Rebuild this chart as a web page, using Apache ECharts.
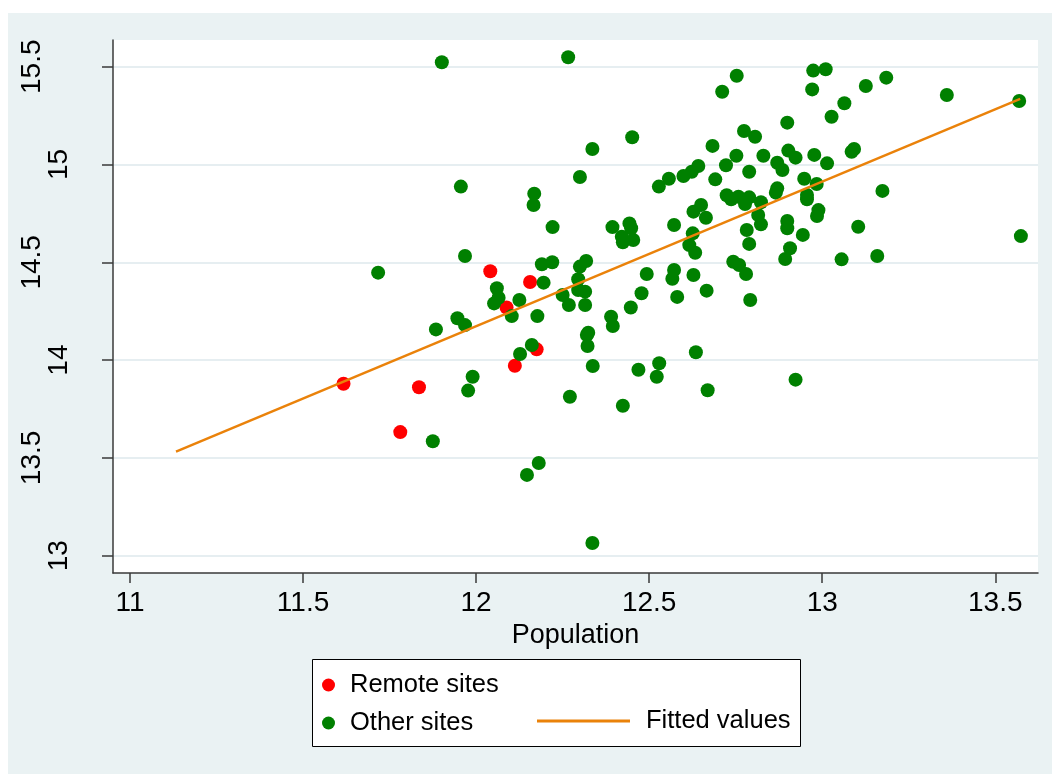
<!DOCTYPE html>
<html><head><meta charset="utf-8">
<script src="https://cdn.jsdelivr.net/npm/echarts@6/dist/echarts.min.js"></script>
<style>
html,body{margin:0;padding:0;background:#fff;overflow:hidden;}
#panel{position:absolute;left:8px;top:13px;width:1044px;height:761px;background:#eaf2f3;}
#chart{position:absolute;left:0;top:0;width:1052px;height:774px;}
</style></head><body>
<div id="panel"></div><div id="chart"></div>
<script>
const remoteX = [11.617, 11.781, 11.835, 12.041, 12.156, 12.088, 12.175, 12.112];
const remoteY = [13.879, 13.632, 13.861, 14.454, 14.399, 14.269, 14.055, 13.971];

const otherX = [11.901,12.266,11.717,11.956,11.968,11.884,11.946,11.968,11.977,11.990,
11.875,12.168,12.166,12.221,12.060,12.065,12.052,12.125,12.103,12.190,
12.220,12.195,12.177,12.127,12.161,12.300,12.336,12.300,12.318,12.295,
12.295,12.315,12.315,12.250,12.268,12.320,12.324,12.322,12.337,12.271,
12.181,12.147,12.336,12.394,12.443,12.448,12.421,12.454,12.424,12.451,
12.390,12.395,12.447,12.478,12.493,12.469,12.529,12.522,12.424,12.528,
12.557,12.599,12.623,12.642,12.691,12.572,12.628,12.650,12.664,12.626,
12.616,12.633,12.572,12.567,12.628,12.581,12.666,12.635,12.669,12.683,
12.711,12.722,12.724,12.737,12.758,12.789,12.777,12.823,12.743,12.760,
12.780,12.792,12.782,12.789,12.815,12.823,12.753,12.774,12.806,12.752,
12.830,12.789,12.870,12.885,12.902,12.923,12.977,13.014,12.899,12.971,
12.974,13.010,13.027,13.064,13.126,13.185,13.360,13.569,13.085,13.092,
12.948,12.984,12.870,12.866,12.956,12.956,13.174,12.899,12.899,12.944,
12.989,12.985,13.104,12.907,12.893,13.056,13.159,13.574,12.923];

const otherY = [15.523,15.548,14.447,14.887,14.532,14.157,14.214,14.179,13.844,13.915,
13.585,14.851,14.793,14.680,14.367,14.319,14.290,14.307,14.225,14.490,
14.500,14.396,14.225,14.031,14.077,14.936,15.079,14.478,14.507,14.413,
14.358,14.350,14.282,14.333,14.282,14.128,14.140,14.072,13.970,13.813,
13.474,13.413,13.065,14.680,14.699,14.674,14.631,14.614,14.602,15.139,
14.222,14.174,14.269,14.342,14.440,13.951,13.984,13.915,13.767,14.887,
14.927,14.941,14.963,14.992,14.924,14.691,14.759,14.793,14.728,14.648,
14.588,14.549,14.461,14.416,14.435,14.323,14.355,14.040,13.846,15.095,
15.372,14.996,14.843,14.822,14.835,14.832,14.798,14.807,14.503,14.486,
14.440,14.307,14.665,14.594,14.742,14.694,15.454,15.171,15.142,15.045,
15.045,14.963,15.009,14.972,15.071,15.035,15.049,15.006,15.214,15.384,
15.480,15.487,15.244,15.313,15.401,15.444,15.355,15.325,15.065,15.079,
14.927,14.900,14.878,14.856,14.844,14.822,14.865,14.711,14.674,14.640,
14.767,14.737,14.682,14.572,14.517,14.515,14.532,14.634,13.900];

const fitX = [11.133, 13.572];
const fitY = [13.532, 15.336];

const xTicks = [11, 11.5, 12, 12.5, 13, 13.5];
const yTicks = [13, 13.5, 14, 14.5, 15, 15.5];
const yLabelsOuter = [13.5, 14.5, 15.5];
const yLabelsInner = [13, 14, 15];

const FONT = '"Liberation Sans", Arial, sans-serif';
const zip = (a, b) => a.map((v, i) => [v, b[i]]);

const chart = echarts.init(document.getElementById('chart'), null, {renderer: 'canvas'});
const axisColor = '#3a3a3a';
const orange = '#ea820a';
chart.setOption({
  animation: false,
  backgroundColor: 'transparent',
  grid: {left: 113, right: 14, top: 40, bottom: 201, show: true, backgroundColor: '#ffffff', borderWidth: 0},
  xAxis: {
    type: 'value', min: 10.951, max: 13.6234,
    name: 'Population', nameLocation: 'middle', nameGap: 42,
    nameTextStyle: {fontSize: 27, color: '#000', fontFamily: FONT},
    axisLine: {show: true, onZero: false, lineStyle: {color: axisColor, width: 1.5}},
    axisTick: {show: true, length: 10, customValues: xTicks, lineStyle: {color: axisColor, width: 1.5}},
    axisLabel: {customValues: xTicks, fontSize: 28, color: '#000', fontFamily: FONT, margin: 16,
      formatter: v => String(v)},
    splitLine: {show: false}
  },
  yAxis: [{
    type: 'value', min: 12.9116, max: 15.6365, position: 'left',
    axisLine: {show: true, onZero: false, lineStyle: {color: axisColor, width: 1.5}},
    axisTick: {show: true, length: 11, customValues: yTicks, lineStyle: {color: axisColor, width: 1.5}},
    axisLabel: {customValues: yLabelsOuter, rotate: 90, fontSize: 28, color: '#000', fontFamily: FONT, margin: 67,
      formatter: v => String(v)},
    splitLine: {show: true, lineStyle: {color: '#e6eef1', width: 2}}
  }, {
    type: 'value', min: 12.9116, max: 15.6365, position: 'left', offset: 0,
    axisLine: {show: false}, axisTick: {show: false},
    axisLabel: {customValues: yLabelsInner, rotate: 90, fontSize: 28, color: '#000', fontFamily: FONT, margin: 40,
      formatter: v => String(v)},
    splitLine: {show: false}
  }],
  legend: [{
    data: ['Remote sites', 'Other sites'], orient: 'vertical', left: 322, top: 672,
    padding: 0, itemGap: 12, itemWidth: 13, itemHeight: 13, icon: 'circle',
    textStyle: {fontSize: 25.5, color: '#000', fontFamily: FONT, padding: [0, 0, 0, 10]},
    selectedMode: false
  }, {
    data: [{name: 'Fitted values', icon: 'rect'}], orient: 'horizontal', left: 537, top: 708,
    padding: 0, itemWidth: 93, itemHeight: 3,
    textStyle: {fontSize: 25.5, color: '#000', fontFamily: FONT, padding: [0, 0, 0, 11]},
    selectedMode: false
  }],
  graphic: [{
    type: 'rect', z: 0,
    shape: {x: 312.5, y: 659.5, width: 488, height: 87},
    style: {fill: '#ffffff', stroke: '#000000', lineWidth: 1}
  }],
  series: [{
    name: 'Remote sites', type: 'scatter', symbol: 'circle', symbolSize: 14,
    itemStyle: {color: '#ff0000', opacity: 1}, data: zip(remoteX, remoteY), z: 3
  }, {
    name: 'Other sites', type: 'scatter', symbol: 'circle', symbolSize: 14,
    itemStyle: {color: '#008000', opacity: 1}, data: zip(otherX, otherY), z: 4
  }, {
    name: 'Fitted values', type: 'line', symbol: 'none', showSymbol: false,
    lineStyle: {color: orange, width: 2.5}, itemStyle: {color: orange},
    data: zip(fitX, fitY), z: 5
  }]
});
</script>
</body></html>
